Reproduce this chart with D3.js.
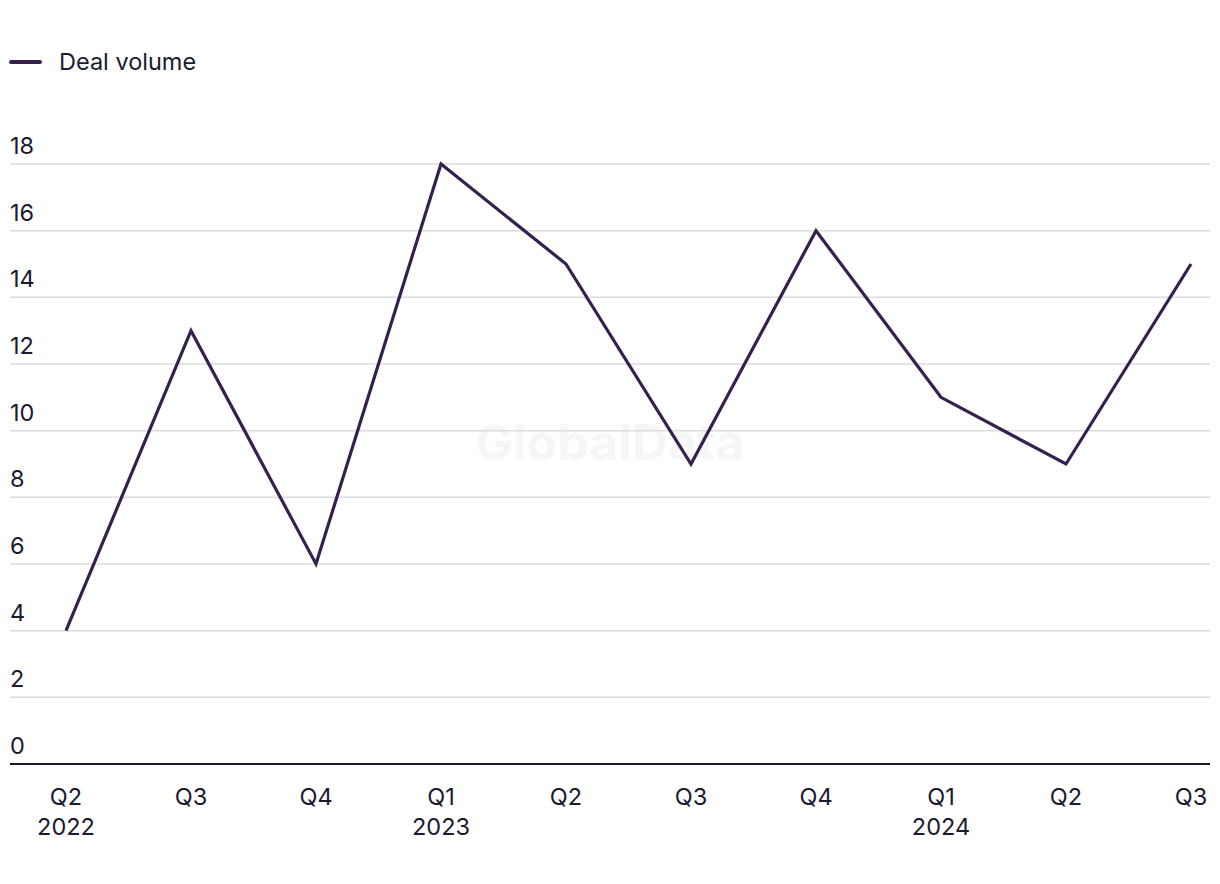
<!DOCTYPE html>
<html><head><meta charset="utf-8">
<script src="https://cdn.jsdelivr.net/npm/d3@7"></script>
<style>body{margin:0;background:#fff;} text{font-family:Inter,"Liberation Sans",sans-serif;}</style>
</head><body>
<svg id="c" width="1220" height="884"></svg>
<script>
const quarters = ["Q2","Q3","Q4","Q1","Q2","Q3","Q4","Q1","Q2","Q3"];
const years = ["2022","","","2023","","","","2024","",""];
const dealVolume = [4,13,6,18,15,9,16,11,9,15];
const yTicks = [0,2,4,6,8,10,12,14,16,18];
const seriesName = "Deal volume";

(function(){
const svg = d3.select("#c");
const mLeft = 10, mRight = 1210, mTop = 164, mBottom = 764;
const x = d3.scalePoint().domain(d3.range(quarters.length)).range([66,1191]);
const y = d3.scaleLinear().domain([0,18]).range([mBottom, mTop]);
const textColor = "#1b1a2e", lineColor = "#35204f";
const fs = 23.5;

svg.append("text").attr("x",610).attr("y",460).attr("text-anchor","middle")
  .attr("font-size",50).attr("font-weight","bold").attr("fill","#f6f6f6").text("GlobalData");

const grid = svg.append("g");
yTicks.forEach(t => {
  if (t > 0) grid.append("line").attr("x1",mLeft).attr("x2",mRight).attr("y1",y(t)).attr("y2",y(t))
    .attr("stroke","#dcdcdc").attr("stroke-width",1.5);
  grid.append("text").attr("x",mLeft).attr("y",y(t)-10).attr("font-size",fs).attr("fill",textColor).text(t);
});
svg.append("line").attr("x1",mLeft).attr("x2",mRight).attr("y1",mBottom).attr("y2",mBottom)
  .attr("stroke",textColor).attr("stroke-width",2);

const xl = svg.append("g");
quarters.forEach((q,i) => {
  xl.append("text").attr("x",x(i)).attr("y",805).attr("text-anchor","middle").attr("font-size",fs).attr("fill",textColor).text(q);
  if (years[i]) xl.append("text").attr("x",x(i)).attr("y",835).attr("text-anchor","middle").attr("font-size",fs).attr("fill",textColor).text(years[i]);
});

svg.append("path").datum(dealVolume)
  .attr("d", d3.line().x((d,i)=>x(i)).y(d=>y(d)))
  .attr("fill","none").attr("stroke",lineColor).attr("stroke-width",3.2).attr("stroke-linejoin","miter");

svg.append("line").attr("x1",11).attr("x2",40).attr("y1",62).attr("y2",62).attr("stroke",lineColor).attr("stroke-width",4).attr("stroke-linecap","round");
svg.append("text").attr("x",59).attr("y",70).attr("font-size",fs).attr("fill",textColor).text(seriesName);
})();
</script>
</body></html>
